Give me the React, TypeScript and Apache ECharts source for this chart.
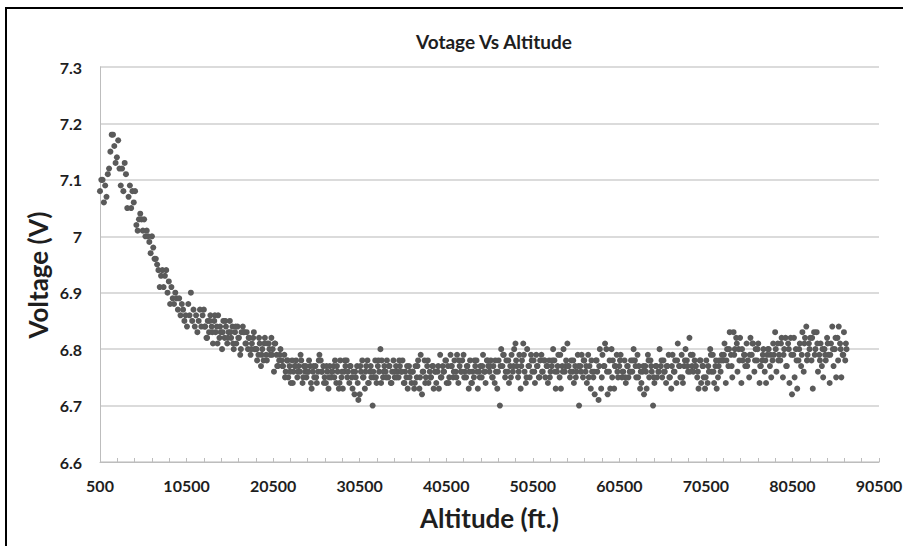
import React, { useEffect, useRef } from "react";
import * as echarts from "echarts";

// Altitude of each sample (ft) - first pass
const altitudeFt = [
  500, 650, 800, 950, 1100, 1250, 1400, 1550, 1700, 1850,
  2000, 2150, 2300, 2450, 2600, 2750, 2900, 3050, 3200, 3350,
  3500, 3650, 3800, 3950, 4100, 4250, 4400, 4550, 4700, 4850,
  5000, 5150, 5300, 5450, 5600, 5750, 5900, 6050, 6200, 6350,
  6500, 6650, 6800, 6950, 7100, 7250, 7400, 7550, 7700, 7850,
  8000, 8150, 8300, 8450, 8600, 8750, 8900, 9050, 9200, 9350,
  9500, 9650, 9800, 9950, 10100, 10250, 10400, 10550, 10700, 10850,
  11000, 11150, 11300, 11450, 11600, 11750, 11900, 12050, 12200, 12350,
  12500, 12650, 12800, 12950, 13100, 13250, 13400, 13550, 13700, 13850,
  14000, 14150, 14300, 14450, 14600, 14750, 14900, 15050, 15200, 15350,
  15500, 15650, 15800, 15950, 16100, 16250, 16400, 16550, 16700, 16850,
  17000, 17150, 17300, 17450, 17600, 17750, 17900, 18050, 18200, 18350,
  18500, 18650, 18800, 18950, 19100, 19250, 19400, 19550, 19700, 19850,
  20000, 20150, 20300, 20450, 20600, 20750, 20900, 21050, 21200, 21350,
  21500, 21650, 21800, 21950, 22100, 22250, 22400, 22550, 22700, 22850,
  23000, 23150, 23300, 23450, 23600, 23750, 23900, 24050, 24200, 24350,
  24500, 24650, 24800, 24950, 25100, 25250, 25400, 25550, 25700, 25850,
  26000, 26150, 26300, 26450, 26600, 26750, 26900, 27050, 27200, 27350,
  27500, 27650, 27800, 27950, 28100, 28250, 28400, 28550, 28700, 28850,
  29000, 29150, 29300, 29450, 29600, 29750, 29900, 30050, 30200, 30350,
  30500, 30650, 30800, 30950, 31100, 31250, 31400, 31550, 31700, 31850,
  32000, 32150, 32300, 32450, 32600, 32750, 32900, 33050, 33200, 33350,
  33500, 33650, 33800, 33950, 34100, 34250, 34400, 34550, 34700, 34850,
  35000, 35150, 35300, 35450, 35600, 35750, 35900, 36050, 36200, 36350,
  36500, 36650, 36800, 36950, 37100, 37250, 37400, 37550, 37700, 37850,
  38000, 38150, 38300, 38450, 38600, 38750, 38900, 39050, 39200, 39350,
  39500, 39650, 39800, 39950, 40100, 40250, 40400, 40550, 40700, 40850,
  41000, 41150, 41300, 41450, 41600, 41750, 41900, 42050, 42200, 42350,
  42500, 42650, 42800, 42950, 43100, 43250, 43400, 43550, 43700, 43850,
  44000, 44150, 44300, 44450, 44600, 44750, 44900, 45050, 45200, 45350,
  45500, 45650, 45800, 45950, 46100, 46250, 46400, 46550, 46700, 46850,
  47000, 47150, 47300, 47450, 47600, 47750, 47900, 48050, 48200, 48350,
  48500, 48650, 48800, 48950, 49100, 49250, 49400, 49550, 49700, 49850,
  50000, 50150, 50300, 50450, 50600, 50750, 50900, 51050, 51200, 51350,
  51500, 51650, 51800, 51950, 52100, 52250, 52400, 52550, 52700, 52850,
  53000, 53150, 53300, 53450, 53600, 53750, 53900, 54050, 54200, 54350,
  54500, 54650, 54800, 54950, 55100, 55250, 55400, 55550, 55700, 55850,
  56000, 56150, 56300, 56450, 56600, 56750, 56900, 57050, 57200, 57350,
  57500, 57650, 57800, 57950, 58100, 58250, 58400, 58550, 58700, 58850,
  59000, 59150, 59300, 59450, 59600, 59750, 59900, 60050, 60200, 60350,
  60500, 60650, 60800, 60950, 61100, 61250, 61400, 61550, 61700, 61850,
  62000, 62150, 62300, 62450, 62600, 62750, 62900, 63050, 63200, 63350,
  63500, 63650, 63800, 63950, 64100, 64250, 64400, 64550, 64700, 64850,
  65000, 65150, 65300, 65450, 65600, 65750, 65900, 66050, 66200, 66350,
  66500, 66650, 66800, 66950, 67100, 67250, 67400, 67550, 67700, 67850,
  68000, 68150, 68300, 68450, 68600, 68750, 68900, 69050, 69200, 69350,
  69500, 69650, 69800, 69950, 70100, 70250, 70400, 70550, 70700, 70850,
  71000, 71150, 71300, 71450, 71600, 71750, 71900, 72050, 72200, 72350,
  72500, 72650, 72800, 72950, 73100, 73250, 73400, 73550, 73700, 73850,
  74000, 74150, 74300, 74450, 74600, 74750, 74900, 75050, 75200, 75350,
  75500, 75650, 75800, 75950, 76100, 76250, 76400, 76550, 76700, 76850,
  77000, 77150, 77300, 77450, 77600, 77750, 77900, 78050, 78200, 78350,
  78500, 78650, 78800, 78950, 79100, 79250, 79400, 79550, 79700, 79850,
  80000, 80150, 80300, 80450, 80600, 80750, 80900, 81050, 81200, 81350,
  81500, 81650, 81800, 81950, 82100, 82250, 82400, 82550, 82700, 82850,
  83000, 83150, 83300, 83450, 83600, 83750, 83900, 84050, 84200, 84350,
  84500, 84650, 84800, 84950, 85100, 85250, 85400, 85550, 85700, 85850,
  86000, 86150, 86300, 86450, 86600, 86750,
];

// Measured voltage (V) - first pass
const voltageV = [
  7.08, 7.10, 7.10, 7.06, 7.09, 7.07, 7.11, 7.12, 7.15, 7.18,
  7.18, 7.16, 7.13, 7.14, 7.17, 7.12, 7.09, 7.12, 7.08, 7.13,
  7.11, 7.05, 7.07, 7.09, 7.05, 7.08, 7.06, 7.08, 7.02, 7.01,
  7.03, 7.04, 7.03, 7.01, 7.03, 7.00, 7.01, 7.00, 6.99, 6.97,
  7.00, 6.98, 6.96, 6.96, 6.95, 6.94, 6.91, 6.93, 6.94, 6.91,
  6.93, 6.94, 6.90, 6.92, 6.88, 6.91, 6.89, 6.88, 6.90, 6.89,
  6.87, 6.89, 6.86, 6.88, 6.87, 6.85, 6.86, 6.84, 6.88, 6.86,
  6.90, 6.85, 6.87, 6.84, 6.86, 6.83, 6.85, 6.87, 6.84, 6.86,
  6.87, 6.84, 6.82, 6.85, 6.83, 6.86, 6.84, 6.81, 6.85, 6.83,
  6.84, 6.86, 6.82, 6.83, 6.80, 6.85, 6.82, 6.84, 6.81, 6.83,
  6.85, 6.82, 6.84, 6.80, 6.83, 6.81, 6.84, 6.82, 6.79, 6.83,
  6.84, 6.83, 6.81, 6.83, 6.80, 6.82, 6.79, 6.81, 6.82, 6.80,
  6.80, 6.78, 6.79, 6.81, 6.77, 6.80, 6.78, 6.82, 6.79, 6.81,
  6.81, 6.79, 6.82, 6.80, 6.76, 6.81, 6.79, 6.77, 6.78, 6.80,
  6.78, 6.77, 6.79, 6.76, 6.78, 6.75, 6.77, 6.74, 6.78, 6.76,
  6.77, 6.78, 6.75, 6.77, 6.76, 6.78, 6.74, 6.77, 6.76, 6.75,
  6.76, 6.78, 6.77, 6.73, 6.76, 6.75, 6.77, 6.74, 6.76, 6.79,
  6.78, 6.76, 6.77, 6.75, 6.74, 6.76, 6.73, 6.77, 6.75, 6.76,
  6.77, 6.78, 6.74, 6.76, 6.73, 6.78, 6.75, 6.73, 6.76, 6.77,
  6.78, 6.76, 6.74, 6.77, 6.75, 6.76, 6.72, 6.75, 6.77, 6.71,
  6.72, 6.76, 6.78, 6.75, 6.73, 6.77, 6.78, 6.74, 6.76, 6.75,
  6.70, 6.75, 6.78, 6.74, 6.77, 6.76, 6.80, 6.78, 6.75, 6.77,
  6.76, 6.78, 6.75, 6.77, 6.74, 6.76, 6.78, 6.75, 6.77, 6.76,
  6.75, 6.77, 6.76, 6.78, 6.74, 6.76, 6.75, 6.73, 6.77, 6.76,
  6.74, 6.76, 6.73, 6.77, 6.75, 6.78, 6.73, 6.79, 6.72, 6.76,
  6.78, 6.75, 6.77, 6.74, 6.76, 6.75, 6.77, 6.73, 6.76, 6.74,
  6.76, 6.73, 6.79, 6.75, 6.77, 6.76, 6.78, 6.74, 6.77, 6.75,
  6.79, 6.77, 6.75, 6.78, 6.76, 6.79, 6.74, 6.77, 6.76, 6.78,
  6.79, 6.76, 6.75, 6.77, 6.73, 6.78, 6.74, 6.76, 6.75, 6.77,
  6.78, 6.73, 6.76, 6.77, 6.75, 6.79, 6.76, 6.74, 6.78, 6.77,
  6.76, 6.78, 6.75, 6.77, 6.74, 6.76, 6.73, 6.78, 6.70, 6.80,
  6.77, 6.79, 6.75, 6.78, 6.76, 6.74, 6.77, 6.79, 6.76, 6.80,
  6.81, 6.77, 6.75, 6.79, 6.73, 6.78, 6.81, 6.76, 6.74, 6.80,
  6.77, 6.75, 6.79, 6.76, 6.78, 6.74, 6.79, 6.77, 6.75, 6.78,
  6.79, 6.76, 6.78, 6.75, 6.77, 6.74, 6.78, 6.76, 6.77, 6.80,
  6.78, 6.73, 6.76, 6.79, 6.75, 6.73, 6.77, 6.80, 6.76, 6.78,
  6.81, 6.77, 6.75, 6.78, 6.76, 6.74, 6.77, 6.76, 6.79, 6.70,
  6.77, 6.79, 6.75, 6.78, 6.76, 6.74, 6.79, 6.77, 6.73, 6.76,
  6.75, 6.72, 6.78, 6.76, 6.71, 6.80, 6.73, 6.79, 6.77, 6.81,
  6.80, 6.72, 6.76, 6.73, 6.80, 6.78, 6.73, 6.77, 6.79, 6.75,
  6.77, 6.79, 6.75, 6.76, 6.78, 6.74, 6.77, 6.75, 6.76, 6.78,
  6.76, 6.80, 6.78, 6.75, 6.79, 6.77, 6.73, 6.74, 6.76, 6.72,
  6.77, 6.73, 6.79, 6.75, 6.78, 6.76, 6.70, 6.74, 6.77, 6.75,
  6.76, 6.80, 6.77, 6.75, 6.78, 6.76, 6.74, 6.77, 6.79, 6.75,
  6.73, 6.79, 6.76, 6.78, 6.74, 6.81, 6.77, 6.75, 6.79, 6.74,
  6.77, 6.80, 6.78, 6.76, 6.82, 6.79, 6.77, 6.76, 6.78, 6.77,
  6.75, 6.73, 6.78, 6.74, 6.77, 6.75, 6.73, 6.78, 6.74, 6.76,
  6.80, 6.76, 6.79, 6.74, 6.77, 6.73, 6.75, 6.78, 6.76, 6.79,
  6.78, 6.81, 6.74, 6.80, 6.77, 6.83, 6.79, 6.75, 6.83, 6.80,
  6.82, 6.76, 6.80, 6.82, 6.74, 6.78, 6.79, 6.77, 6.81, 6.78,
  6.75, 6.82, 6.79, 6.81, 6.76, 6.80, 6.78, 6.81, 6.74, 6.77,
  6.78, 6.80, 6.76, 6.74, 6.79, 6.80, 6.77, 6.75, 6.78, 6.79,
  6.83, 6.76, 6.81, 6.79, 6.78, 6.82, 6.75, 6.80, 6.82, 6.77,
  6.81, 6.74, 6.82, 6.72, 6.79, 6.75, 6.80, 6.73, 6.78, 6.81,
  6.77, 6.83, 6.76, 6.82, 6.84, 6.79, 6.81, 6.82, 6.78, 6.73,
  6.83, 6.80, 6.83, 6.76, 6.79, 6.81, 6.77, 6.75, 6.80, 6.78,
  6.82, 6.79, 6.74, 6.81, 6.84, 6.77, 6.80, 6.75, 6.82, 6.84,
  6.81, 6.75, 6.79, 6.83, 6.78, 6.80,
];

// Altitude of in-between samples (ft), from 12575 ft upward
const altitudeFt2 = [
  12575, 12875, 13175, 13475, 13775, 14075, 14375, 14675, 14975, 15275,
  15575, 15875, 16175, 16475, 16775, 17075, 17375, 17675, 17975, 18275,
  18575, 18875, 19175, 19475, 19775, 20075, 20375, 20675, 20975, 21275,
  21575, 21875, 22175, 22475, 22775, 23075, 23375, 23675, 23975, 24275,
  24575, 24875, 25175, 25475, 25775, 26075, 26375, 26675, 26975, 27275,
  27575, 27875, 28175, 28475, 28775, 29075, 29375, 29675, 29975, 30275,
  30575, 30875, 31175, 31475, 31775, 32075, 32375, 32675, 32975, 33275,
  33575, 33875, 34175, 34475, 34775, 35075, 35375, 35675, 35975, 36275,
  36575, 36875, 37175, 37475, 37775, 38075, 38375, 38675, 38975, 39275,
  39575, 39875, 40175, 40475, 40775, 41075, 41375, 41675, 41975, 42275,
  42575, 42875, 43175, 43475, 43775, 44075, 44375, 44675, 44975, 45275,
  45575, 45875, 46175, 46475, 46775, 47075, 47375, 47675, 47975, 48275,
  48575, 48875, 49175, 49475, 49775, 50075, 50375, 50675, 50975, 51275,
  51575, 51875, 52175, 52475, 52775, 53075, 53375, 53675, 53975, 54275,
  54575, 54875, 55175, 55475, 55775, 56075, 56375, 56675, 56975, 57275,
  57575, 57875, 58175, 58475, 58775, 59075, 59375, 59675, 59975, 60275,
  60575, 60875, 61175, 61475, 61775, 62075, 62375, 62675, 62975, 63275,
  63575, 63875, 64175, 64475, 64775, 65075, 65375, 65675, 65975, 66275,
  66575, 66875, 67175, 67475, 67775, 68075, 68375, 68675, 68975, 69275,
  69575, 69875, 70175, 70475, 70775, 71075, 71375, 71675, 71975, 72275,
  72575, 72875, 73175, 73475, 73775, 74075, 74375, 74675, 74975, 75275,
  75575, 75875, 76175, 76475, 76775, 77075, 77375, 77675, 77975, 78275,
  78575, 78875, 79175, 79475, 79775, 80075, 80375, 80675, 80975, 81275,
  81575, 81875, 82175, 82475, 82775, 83075, 83375, 83675, 83975, 84275,
  84575, 84875, 85175, 85475, 85775, 86075, 86375, 86675,
];

// Measured voltage (V) of in-between samples
const voltageV2 = [
  6.84, 6.82, 6.85, 6.83, 6.86, 6.81, 6.84, 6.83, 6.85, 6.82,
  6.83, 6.81, 6.84, 6.82, 6.80, 6.83, 6.81, 6.82, 6.80, 6.83,
  6.80, 6.82, 6.79, 6.81, 6.78, 6.80, 6.79, 6.81, 6.77, 6.79,
  6.77, 6.75, 6.78, 6.76, 6.74, 6.77, 6.76, 6.79, 6.75, 6.77,
  6.76, 6.74, 6.77, 6.75, 6.78, 6.76, 6.74, 6.77, 6.75, 6.76,
  6.75, 6.77, 6.74, 6.76, 6.78, 6.75, 6.77, 6.73, 6.76, 6.74,
  6.77, 6.75, 6.76, 6.74, 6.77, 6.76, 6.75, 6.78, 6.74, 6.76,
  6.75, 6.77, 6.74, 6.76, 6.75, 6.78, 6.76, 6.74, 6.77, 6.75,
  6.76, 6.74, 6.77, 6.75, 6.76, 6.74, 6.78, 6.75, 6.77, 6.76,
  6.77, 6.75, 6.76, 6.78, 6.74, 6.77, 6.76, 6.75, 6.78, 6.76,
  6.75, 6.77, 6.76, 6.74, 6.78, 6.76, 6.75, 6.77, 6.76, 6.78,
  6.77, 6.75, 6.78, 6.76, 6.77, 6.79, 6.76, 6.78, 6.75, 6.77,
  6.78, 6.76, 6.77, 6.79, 6.75, 6.77, 6.78, 6.76, 6.77, 6.75,
  6.76, 6.78, 6.77, 6.75, 6.78, 6.76, 6.77, 6.79, 6.76, 6.77,
  6.77, 6.76, 6.78, 6.75, 6.77, 6.76, 6.78, 6.77, 6.75, 6.78,
  6.76, 6.78, 6.77, 6.75, 6.77, 6.76, 6.78, 6.75, 6.77, 6.76,
  6.78, 6.76, 6.75, 6.77, 6.76, 6.78, 6.77, 6.75, 6.76, 6.77,
  6.76, 6.78, 6.77, 6.75, 6.77, 6.76, 6.78, 6.76, 6.77, 6.75,
  6.77, 6.76, 6.78, 6.77, 6.75, 6.78, 6.77, 6.76, 6.79, 6.77,
  6.76, 6.78, 6.77, 6.75, 6.77, 6.79, 6.76, 6.78, 6.77, 6.78,
  6.79, 6.78, 6.80, 6.77, 6.79, 6.81, 6.78, 6.80, 6.79, 6.77,
  6.79, 6.81, 6.78, 6.80, 6.77, 6.79, 6.78, 6.80, 6.79, 6.81,
  6.80, 6.78, 6.81, 6.79, 6.77, 6.80, 6.79, 6.82, 6.78, 6.80,
  6.79, 6.81, 6.78, 6.80, 6.82, 6.79, 6.81, 6.78, 6.80, 6.79,
  6.81, 6.79, 6.80, 6.82, 6.78, 6.80, 6.79, 6.81,
];

// Axis tick labels
const xLabelValues = [500, 10500, 20500, 30500, 40500, 50500, 60500, 70500, 80500, 90500];
const xTickValues = [
  2500, 4500, 6500, 8500, 10500, 12500, 14500, 16500, 18500, 20500,
  22500, 24500, 26500, 28500, 30500, 32500, 34500, 36500, 38500, 40500,
  42500, 44500, 46500, 48500, 50500, 52500, 54500, 56500, 58500, 60500,
  62500, 64500, 66500, 68500, 70500, 72500, 74500, 76500, 78500, 80500,
  82500, 84500, 86500, 88500, 90500,
];
const yMin = 6.6;
const yMax = 7.3;
const yStep = 0.1;

const FONT = "Lato";
const TEXT_COLOR = "#1e1e1e";

export default function App() {
  const ref = useRef<HTMLDivElement>(null);

  useEffect(() => {
    if (!ref.current) return;
    const chart = echarts.init(ref.current, null, { renderer: "svg" });
    const points = altitudeFt
      .map((a, i) => [a, voltageV[i]])
      .concat(altitudeFt2.map((a, i) => [a, voltageV2[i]]));
    chart.setOption({
      animation: false,
      backgroundColor: "#ffffff",
      title: {
        text: "Votage Vs Altitude",
        left: 489,
        top: 27,
        textAlign: "center",
        textStyle: { fontFamily: FONT, fontWeight: "bold", fontSize: 19, color: TEXT_COLOR },
      },
      grid: { left: 100, right: 24, top: 67, bottom: 84, outerBoundsMode: "none" },
      xAxis: {
        type: "value",
        min: 500,
        max: 90500,
        splitLine: { show: false },
        axisLine: { show: true, lineStyle: { color: "#bdbdbd", width: 1 } },
        axisTick: {
          show: true,
          inside: true,
          length: 4,
          customValues: xTickValues,
          lineStyle: { color: "#bdbdbd" },
        },
        axisLabel: {
          customValues: xLabelValues,
          formatter: (v: number) => String(v),
          margin: 15,
          fontFamily: FONT,
          fontWeight: "bold",
          fontSize: 16,
          color: TEXT_COLOR,
        },
        name: "Altitude (ft.)",
        nameLocation: "middle",
        nameGap: 43,
        nameTextStyle: { fontFamily: FONT, fontWeight: "bold", fontSize: 26, color: TEXT_COLOR },
      },
      yAxis: {
        type: "value",
        min: yMin,
        max: yMax,
        interval: yStep,
        axisLine: { show: true, lineStyle: { color: "#bdbdbd", width: 1 } },
        axisTick: { show: false },
        axisLabel: {
          margin: 18,
          fontFamily: FONT,
          fontWeight: "bold",
          fontSize: 16,
          color: TEXT_COLOR,
        },
        splitLine: { show: true, lineStyle: { color: "#cfcfcf", width: 1.5 } },
      },
      series: [
        {
          type: "scatter",
          data: points,
          symbol: "circle",
          symbolSize: 6,
          itemStyle: { color: "#5a5a5a", opacity: 1 },
        },
      ],
      graphic: [
        {
          type: "line",
          shape: { x1: 5, y1: 8, x2: 903, y2: 8 },
          style: { stroke: "#000000", lineWidth: 2 },
        },
        {
          type: "line",
          shape: { x1: 6, y1: 8, x2: 6, y2: 546 },
          style: { stroke: "#000000", lineWidth: 2 },
        },
        {
          type: "text",
          x: 38,
          y: 275,
          rotation: Math.PI / 2,
          style: {
            text: "Voltage (V)",
            fontFamily: FONT,
            fontWeight: "bold",
            fontSize: 26,
            fill: TEXT_COLOR,
            textAlign: "center",
            textVerticalAlign: "middle",
          },
        },
      ],
    });
    return () => chart.dispose();
  }, []);

  return (
    <div
      ref={ref}
      style={{ position: "fixed", left: 0, top: 0, width: 903, height: 546, background: "#fff" }}
    />
  );
}
